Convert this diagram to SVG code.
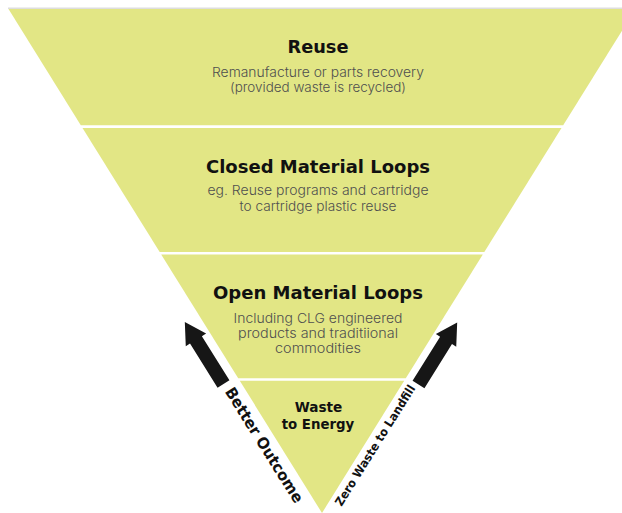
<svg xmlns="http://www.w3.org/2000/svg" width="622" height="513" viewBox="0 0 622 513">
<style>
.band{fill:#e2e685}
.title{font-family:"DejaVu Sans","Liberation Sans",sans-serif;font-weight:bold;font-size:18px;fill:#111;text-anchor:middle}
.t4{font-size:14px}
.sub{font-family:"Inter","DejaVu Sans","Liberation Sans",sans-serif;font-weight:300;font-size:13px;fill:#4f4f4f;text-anchor:middle}
.arrow{fill:#161616}
.alab{font-family:"DejaVu Sans","Liberation Sans",sans-serif;font-weight:bold;fill:#111}
</style>
<rect x="0" y="0" width="622" height="513" fill="#ffffff"/>
<rect x="8" y="7.5" width="614" height="1.5" fill="#dddddd"/>
<g id="node-reuse">
<polygon class="band" points="8.5,9 635.5,9 563.2,125.3 80.8,125.3"/>
<text class="title" x="318" y="53" textLength="61" lengthAdjust="spacingAndGlyphs">Reuse</text>
<text class="sub" x="318" y="76.5" textLength="212" lengthAdjust="spacingAndGlyphs">Remanufacture or parts recovery</text>
<text class="sub" x="318" y="91.5" textLength="176" lengthAdjust="spacingAndGlyphs">(provided waste is recycled)</text>
</g>
<g id="node-closed">
<polygon class="band" points="82.5,128 561.5,128 484.3,252 159.7,252"/>
<text class="title" x="318" y="172.5" textLength="224" lengthAdjust="spacingAndGlyphs">Closed Material Loops</text>
<text class="sub" x="318" y="195" textLength="221" lengthAdjust="spacingAndGlyphs">eg. Reuse programs and cartridge</text>
<text class="sub" x="318" y="210.5" textLength="157" lengthAdjust="spacingAndGlyphs">to cartridge plastic reuse</text>
</g>
<g id="node-open">
<polygon class="band" points="161.2,254.5 482.8,254.5 405.8,378.3 238.2,378.3"/>
<text class="title" x="318" y="298.5" textLength="210" lengthAdjust="spacingAndGlyphs">Open Material Loops</text>
<text class="sub" x="318" y="322.5" textLength="169" lengthAdjust="spacingAndGlyphs">Including CLG engineered</text>
<text class="sub" x="318" y="337.5" textLength="160" lengthAdjust="spacingAndGlyphs">products and traditiional</text>
<text class="sub" x="318" y="352.5" textLength="86" lengthAdjust="spacingAndGlyphs">commodities</text>
</g>
<g id="node-energy">
<polygon class="band" points="239.8,380.8 404.2,380.8 322,513"/>
<text class="title t4" x="318.5" y="412" textLength="47.7" lengthAdjust="spacingAndGlyphs">Waste</text>
<text class="title t4" x="318" y="429" textLength="72.6" lengthAdjust="spacingAndGlyphs">to Energy</text>
</g>
<g id="connectors">
<g id="arrow-better">
<polygon class="arrow" transform="translate(223.5,384) rotate(-32)" points="-7,0 7,0 7,-52 12,-52 0,-73 -12,-52 -7,-52"/>
<text class="alab" font-size="15.5" transform="translate(224.5,391.5) rotate(58)" x="0" y="0" textLength="133" lengthAdjust="spacingAndGlyphs">Better Outcome</text>
</g>
<g id="arrow-zero">
<polygon class="arrow" transform="translate(418.5,384.5) rotate(32)" points="-7,0 7,0 7,-52 12,-52 0,-73 -12,-52 -7,-52"/>
<text class="alab" font-size="12" transform="translate(341.5,507) rotate(-58)" x="0" y="0" textLength="140" lengthAdjust="spacingAndGlyphs">Zero Waste to Landfill</text>
</g>
</g>
</svg>
